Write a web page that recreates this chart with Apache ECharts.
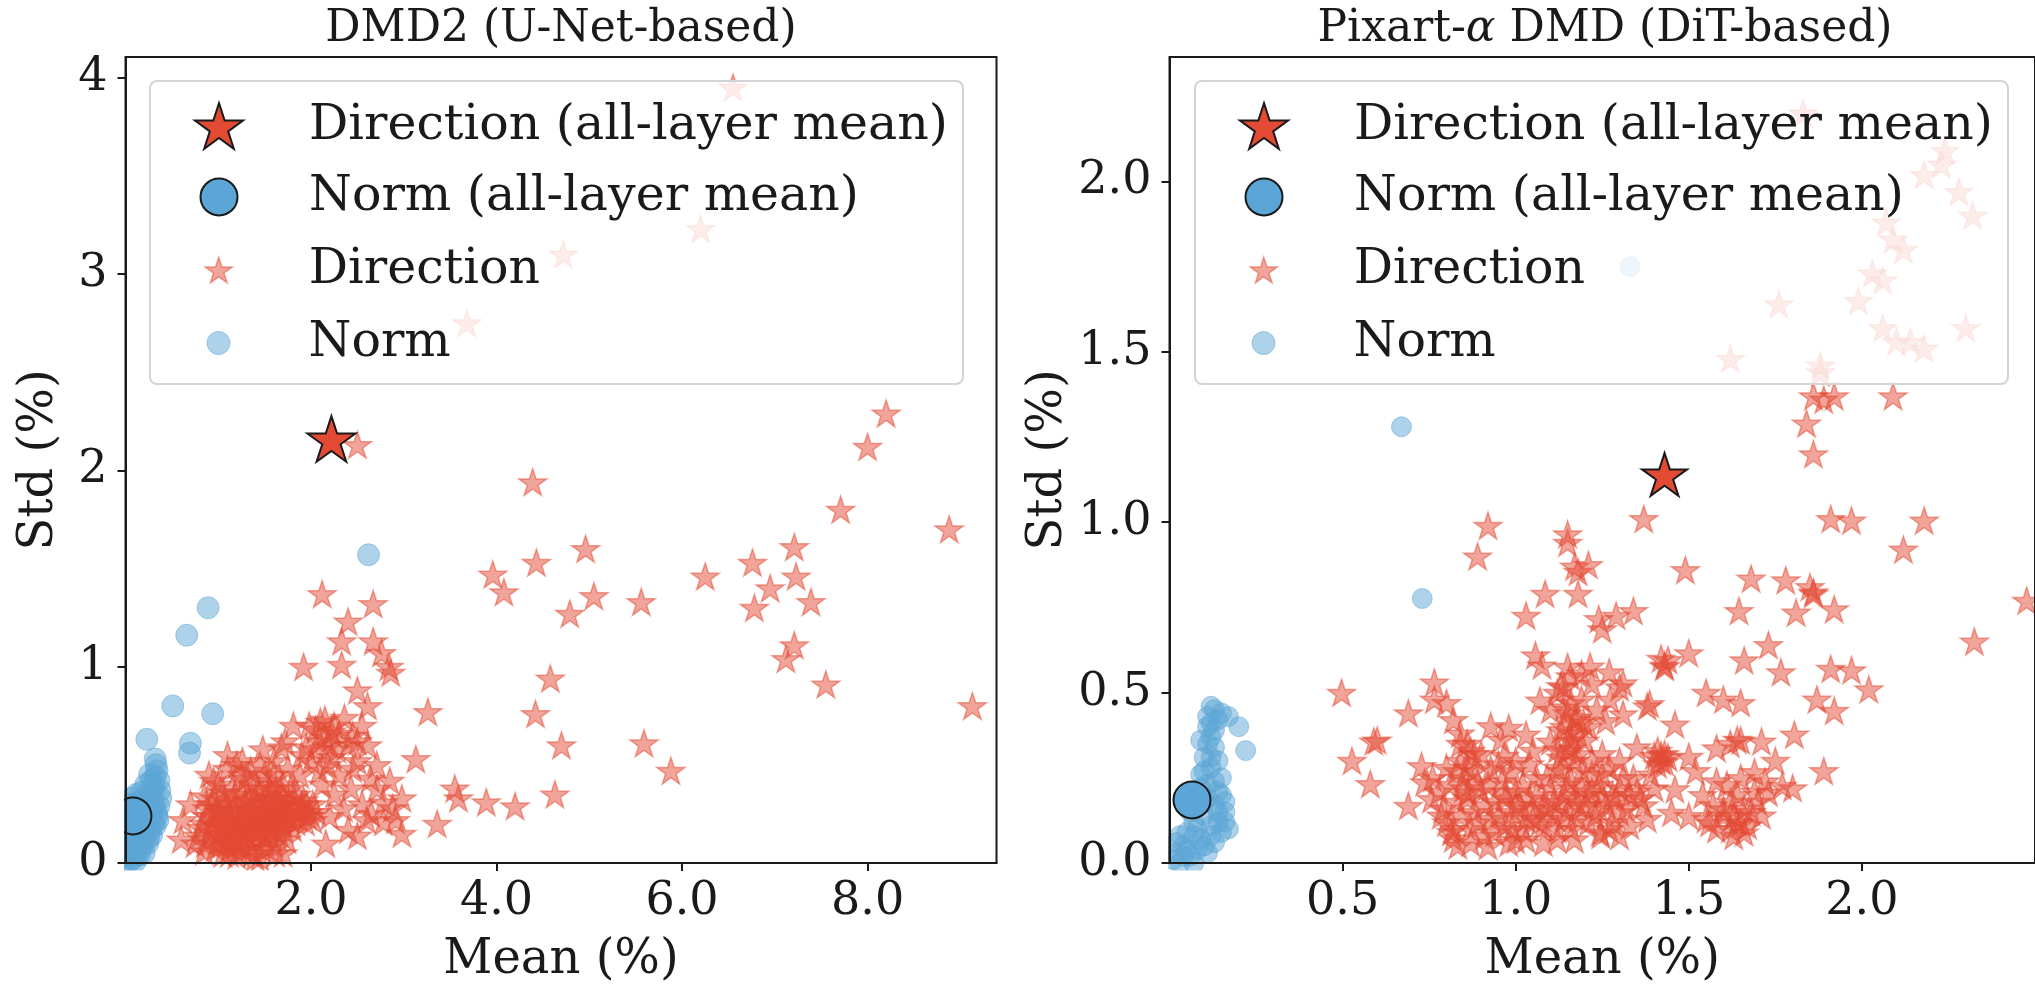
<!DOCTYPE html>
<html><head><meta charset="utf-8">
<script src="https://cdn.jsdelivr.net/npm/echarts@6/dist/echarts.min.js"></script>
<style>html,body{margin:0;padding:0;background:#fff}#c{width:2035px;height:990px}</style>
</head><body><div id="c"></div>
<script>
// ---------------- DATA ----------------
const titleL = 'DMD2 (U-Net-based)';
const titleR = 'Pixart-{a|α} DMD (DiT-based)';
const legendNames = ['Direction (all-layer mean)', 'Norm (all-layer mean)', 'Direction', 'Norm'];
const xName = 'Mean (%)';
const yName = 'Std (%)';
const xTicksL = [2, 4, 6, 8];
const yTicksL = [0, 1, 2, 3, 4];
const xTicksR = [0.5, 1.0, 1.5, 2.0];
const yTicksR = [0, 0.5, 1.0, 1.5, 2.0];

const dirMeanL = [[2.22, 2.16]];
const normMeanL = [[0.08, 0.24]];
const dirL = [
 [6.55,3.95],[6.20,3.23],[4.72,3.10],[3.68,2.75],[2.50,2.13],[8.20,2.29],[8.00,2.12],[4.39,1.94],[7.71,1.80],[8.88,1.70],
 [4.96,1.60],[4.43,1.53],[7.21,1.61],[6.76,1.53],[3.96,1.47],[6.25,1.46],[7.23,1.46],[4.08,1.38],[5.05,1.36],[6.95,1.40],
 [5.56,1.33],[4.79,1.27],[6.78,1.30],[7.39,1.33],[7.21,1.11],[7.12,1.04],[7.55,0.91],[9.13,0.80],[4.58,0.94],[4.42,0.76],
 [4.70,0.60],[5.59,0.61],[5.88,0.47],[4.63,0.35],[3.55,0.38],[3.59,0.33],[3.89,0.31],[4.20,0.29],[3.36,0.20],[3.13,0.53],[3.26,0.77],
 [2.12,1.37],[2.67,1.32],[2.40,1.23],[2.33,1.13],[2.67,1.13],[2.76,1.07],[2.84,1.00],[2.86,0.97],[1.92,1.00],[2.33,1.01],
 [2.50,0.88],[2.61,0.80],[1.81,0.70],[2.15,0.73],[2.22,0.67],[2.09,0.62],[2.50,0.62],[2.36,0.74],[2.61,0.60],[2.71,0.50],
 [2.50,0.52],[2.64,0.43],[2.43,0.38],[2.22,0.54],[2.09,0.47],[1.95,0.59],[1.68,0.59],[1.88,0.45],[2.50,0.14],[2.16,0.10],
 [2.40,0.17],[2.78,0.21],[2.98,0.33],[2.91,0.22],[2.98,0.15],[2.78,0.31],[2.71,0.38],[2.05,0.68],[2.20,0.60],[2.30,0.45],
 [2.55,0.30],[2.35,0.28],[2.60,0.22],[2.25,0.35],[2.00,0.52],[2.12,0.40],[2.45,0.48],[2.85,0.42],[2.30,0.66],[2.18,0.50],
 [1.98,0.70],[2.40,0.60],[2.65,0.25],[2.88,0.28],[2.20,0.24],
 [1.26,0.52],[1.10,0.48],[1.45,0.50],[0.85,0.34],[0.70,0.30],[0.62,0.22],[0.60,0.12],[0.75,0.10],[0.95,0.42],[1.60,0.45],
 [1.70,0.40],[1.85,0.35],[1.95,0.30],[2.02,0.22],[1.05,0.05],[1.40,0.03],[1.70,0.05],[0.85,0.06],[1.25,0.45],[1.55,0.38],[1.00,0.40],
 [0.82,0.18],[0.88,0.24],[0.90,0.12],[0.95,0.20],[0.98,0.28],[1.00,0.15],[1.02,0.09],[1.05,0.22],[1.07,0.32],[1.10,0.17],
 [1.12,0.26],[1.13,0.08],[1.15,0.20],[1.17,0.13],[1.18,0.30],[1.20,0.24],[1.22,0.06],[1.23,0.18],[1.25,0.36],[1.26,0.11],
 [1.28,0.27],[1.30,0.21],[1.31,0.15],[1.33,0.32],[1.34,0.08],[1.36,0.25],[1.38,0.19],[1.39,0.12],[1.41,0.29],[1.42,0.22],
 [1.44,0.16],[1.45,0.35],[1.47,0.07],[1.48,0.26],[1.50,0.20],[1.51,0.13],[1.53,0.31],[1.55,0.23],[1.56,0.17],[1.58,0.28],
 [1.60,0.10],[1.61,0.21],[1.63,0.33],[1.65,0.25],[1.66,0.15],[1.68,0.29],[1.70,0.20],[1.72,0.26],[1.74,0.12],[1.76,0.31],
 [1.78,0.22],[1.80,0.18],[1.83,0.27],[1.86,0.23],[1.90,0.30],[1.94,0.21],[1.98,0.26],[1.15,0.38],[1.35,0.40],[1.55,0.42],
 [1.05,0.12],[1.20,0.04],[1.45,0.03],[1.62,0.05],[0.92,0.30],[1.28,0.16],[1.40,0.24],[1.52,0.27],[1.33,0.19],[1.46,0.18],
 [1.24,0.22],[1.57,0.14],
 [0.78,0.14],[0.84,0.20],[0.86,0.10],[0.92,0.16],[0.94,0.24],[0.97,0.08],[0.99,0.19],[1.01,0.26],[1.03,0.14],[1.06,0.18],
 [1.08,0.28],[1.09,0.10],[1.11,0.21],[1.14,0.16],[1.16,0.27],[1.19,0.09],[1.21,0.19],[1.24,0.14],[1.27,0.23],[1.29,0.31],
 [1.32,0.12],[1.35,0.28],[1.37,0.16],[1.40,0.33],[1.43,0.20],[1.46,0.27],[1.49,0.14],[1.52,0.22],[1.54,0.34],[1.57,0.19],
 [1.59,0.25],[1.62,0.16],[1.64,0.29],[1.67,0.22],[1.69,0.35],[1.71,0.17],[1.73,0.30],[1.75,0.24],[1.79,0.28],[1.81,0.33],
 [1.84,0.21],[1.88,0.26],[1.92,0.32],[1.96,0.24],[2.02,0.30],[2.06,0.26],[1.27,0.07],[1.37,0.05],[1.52,0.08],[1.12,0.05],
 [0.96,0.33],[1.18,0.35],[1.42,0.38],[1.62,0.38],[1.78,0.38],[1.30,0.43],[1.50,0.45],[1.05,0.36],[0.88,0.28],[1.60,0.30],
 [1.10,0.55],[1.20,0.50],[1.35,0.47],[1.60,0.52],[1.75,0.48],[1.90,0.55],[1.72,0.62],[1.48,0.58],[0.90,0.45],[2.05,0.58],
 [2.10,0.72],[2.25,0.70],[2.15,0.64],[2.28,0.58],[2.45,0.65],[2.55,0.70]
];
const normL = [
 [2.62,1.57],[0.89,1.30],[0.66,1.16],[0.51,0.80],[0.94,0.76],[0.23,0.63],[0.70,0.61],[0.69,0.56],[0.32,0.53],[0.34,0.47],
 [0.36,0.42],[0.37,0.37],[0.38,0.33],[0.36,0.29],[0.33,0.26],[0.35,0.22],[0.30,0.20],[0.27,0.17],[0.25,0.13],[0.20,0.10],
 [0.16,0.07],[0.12,0.04],[0.08,0.02],[0.04,0.01],[0.02,0.05],[0.05,0.09],[0.03,0.14],[0.10,0.12],[0.14,0.16],[0.18,0.20],
 [0.22,0.24],[0.26,0.28],[0.29,0.33],[0.31,0.38],[0.12,0.22],[0.06,0.18],[0.16,0.28],[0.20,0.31],[0.24,0.35],[0.28,0.42],
 [0.10,0.30],[0.05,0.26],[0.02,0.20],[0.08,0.07],[0.13,0.10],[0.01,0.01],[0.06,0.04],[0.18,0.14],[0.22,0.19],[0.27,0.24],
 [0.15,0.04],[0.10,0.17],
 [0.00,0.03],[0.02,0.08],[0.04,0.12],[0.06,0.10],[0.08,0.14],[0.10,0.08],[0.12,0.15],[0.14,0.20],[0.16,0.23],[0.18,0.26],
 [0.20,0.27],[0.22,0.30],[0.25,0.32],[0.27,0.36],[0.30,0.40],[0.32,0.44],[0.33,0.50],[0.03,0.30],[0.07,0.33],[0.12,0.35],
 [0.17,0.36],[0.22,0.40],[0.26,0.45],[0.04,0.22],[0.09,0.27],[0.14,0.31],[0.19,0.17],[0.24,0.21],[0.29,0.28],[0.31,0.30],
 [0.20,0.05],[0.24,0.10],[0.28,0.14],[0.32,0.19],[0.34,0.24],[0.11,0.01],[0.17,0.11],[0.21,0.15],[0.01,0.12],[0.03,0.17]
];

const dirMeanR = [[1.43, 1.14]];
const normMeanR = [[0.065, 0.185]];
const dirR = [
 [1.83,2.20],[2.24,2.09],[2.18,2.02],[2.28,1.97],[2.32,1.90],[2.07,1.88],[2.09,1.83],[2.03,1.73],[2.06,1.71],[1.99,1.65],
 [1.76,1.64],[2.06,1.57],[2.10,1.53],[2.30,1.57],[1.62,1.48],[1.88,1.46],[1.86,1.37],[1.89,1.36],[1.84,1.29],[1.86,1.20],
 [2.09,1.37],[1.92,1.37],[2.23,2.05],[2.12,1.80],[2.14,1.53],[2.18,1.51],[1.88,1.44],
 [1.37,1.01],[0.92,0.99],[0.89,0.90],[1.15,0.965],[1.15,0.94],[1.18,0.855],[1.21,0.875],[1.085,0.79],[1.18,0.79],
 [1.03,0.726],[1.24,0.716],[1.29,0.726],[1.34,0.74],[1.25,0.686],[1.49,0.86],[1.68,0.835],[1.78,0.83],[1.86,0.795],[1.91,1.01],
 [1.97,1.005],[2.18,1.005],[2.12,0.92],[2.325,0.65],[2.476,0.77],[1.92,0.745],[1.81,0.735],[1.645,0.74],[1.73,0.64],[1.66,0.595],
 [1.50,0.616],[1.44,0.596],[1.43,0.576],[1.766,0.56],[1.91,0.57],[1.97,0.566],[2.02,0.51],[1.87,0.48],[1.92,0.447],[1.89,0.27],
 [1.805,0.377],[1.55,0.50],[1.60,0.48],[1.65,0.47],[1.387,0.467],[1.46,0.407],[1.42,0.317],[1.43,0.297],[1.71,0.357],[1.64,0.362],
 [1.58,0.337],[1.50,0.312],[1.41,0.33],[1.44,0.31],[1.62,0.35],[1.65,0.36],[1.86,0.79],[1.85,0.81],[1.17,0.87],[1.43,0.58],[1.42,0.60],
 [1.69,0.267],[1.77,0.227],[1.73,0.207],[1.63,0.138],[1.60,0.158],[1.65,0.118],[1.50,0.138],[1.45,0.148],[1.56,0.118],[1.46,0.217],
 [1.62,0.10],[1.66,0.09],[1.68,0.15],[1.70,0.18],[1.64,0.20],[1.58,0.24],[1.54,0.20],[1.75,0.30],[1.80,0.22],[1.52,0.27],
 [1.246,0.083],[1.00,0.068],[0.82,0.073],[0.69,0.168],[0.58,0.232],[0.527,0.30],[0.59,0.357],[0.497,0.50],[0.69,0.44],[0.765,0.53],
 [0.765,0.48],[1.057,0.61],[1.076,0.58],[1.15,0.576],[1.19,0.556],[1.22,0.526],[1.27,0.56],[1.30,0.516],[1.07,0.477],[1.14,0.516],
 [1.14,0.457],[1.18,0.427],[1.26,0.417],[1.31,0.437],[0.98,0.397],[1.03,0.377],[1.10,0.357],[1.16,0.337],[0.60,0.36],[0.728,0.285],
 [0.737,0.237],[0.757,0.188],[0.785,0.14],[0.814,0.091],[0.833,0.052],[0.80,0.47],[0.82,0.42],[0.84,0.38],[0.86,0.35],[0.87,0.33],
 [0.928,0.402],[0.957,0.363],[0.967,0.315],[0.928,0.276],[0.89,0.237],[0.862,0.208],[0.97,0.19],[1.01,0.17],[1.05,0.16],[1.09,0.16],
 [1.13,0.18],[1.17,0.19],[1.21,0.20],[1.25,0.20],[1.29,0.19],[1.33,0.20],[1.12,0.334],[1.158,0.383],[1.196,0.412],[1.234,0.451],
 [1.273,0.48],[1.31,0.528],[1.158,0.548],[1.215,0.577],[1.38,0.46],[1.40,0.315],[1.244,0.09],
 [0.80,0.12],[0.83,0.18],[0.85,0.25],[0.87,0.10],[0.88,0.15],[0.90,0.21],[0.91,0.08],[0.93,0.13],[0.94,0.18],[0.96,0.24],
 [0.97,0.11],[0.99,0.15],[1.00,0.21],[1.02,0.10],[1.03,0.13],[1.04,0.19],[1.06,0.25],[1.07,0.12],[1.08,0.17],[1.10,0.22],
 [1.11,0.14],[1.12,0.10],[1.13,0.27],[1.14,0.20],[1.15,0.15],[1.16,0.24],[1.17,0.30],[1.18,0.13],[1.19,0.22],[1.20,0.17],
 [1.21,0.40],[1.22,0.26],[1.23,0.14],[1.24,0.23],[1.26,0.17],[1.27,0.28],[1.28,0.12],[1.30,0.22],[1.32,0.16],[1.34,0.25],
 [1.36,0.19],[1.38,0.13],[1.40,0.22],[1.10,0.45],[1.12,0.50],[1.15,0.44],[1.16,0.36],[1.18,0.32],[1.13,0.39],[0.86,0.28],
 [0.84,0.30],[0.90,0.32],[0.95,0.29],[1.00,0.30],[1.05,0.33],[1.25,0.32],[1.30,0.30],[1.35,0.34],[1.20,0.36],[0.92,0.05],
 [0.98,0.06],[1.08,0.06],[1.17,0.07],[1.30,0.08],[0.78,0.21],
 [0.79,0.16],[0.81,0.23],[0.82,0.10],[0.84,0.14],[0.86,0.19],[0.87,0.06],[0.89,0.12],[0.91,0.17],[0.92,0.23],[0.94,0.09],
 [0.95,0.14],[0.97,0.21],[0.99,0.10],[1.00,0.17],[1.02,0.23],[1.03,0.07],[1.05,0.13],[1.06,0.20],[1.08,0.11],[1.09,0.25],
 [1.11,0.18],[1.12,0.07],[1.14,0.13],[1.15,0.23],[1.16,0.10],[1.18,0.17],[1.19,0.27],[1.21,0.12],[1.22,0.21],[1.24,0.16],
 [1.25,0.26],[1.27,0.10],[1.28,0.20],[1.30,0.15],[1.31,0.25],[1.33,0.11],[1.35,0.21],[1.37,0.17],[1.39,0.26],[0.85,0.22],
 [0.88,0.27],[0.83,0.27],[0.99,0.27],[1.04,0.29],[1.13,0.31],[1.22,0.30],[1.58,0.10],[1.60,0.14],[1.62,0.18],[1.64,0.12],
 [1.66,0.16],[1.67,0.11],[1.69,0.21],[1.71,0.14],[1.63,0.08],[1.57,0.17],[1.61,0.23],[1.55,0.13],[1.65,0.25],[1.72,0.24],
 [1.14,0.40],[1.16,0.47],[1.17,0.42],[1.13,0.52],[1.15,0.33],[1.18,0.38],[1.12,0.28],[1.42,0.30],[1.43,0.32],[1.41,0.29],
 [1.19,0.48],[0.88,0.32],[0.84,0.35],[0.80,0.28],[0.76,0.25]
];
const normR = [
 [0.73,0.776],[0.67,1.28],[1.33,1.75],
 [0.12,0.46],[0.13,0.45],[0.11,0.43],[0.17,0.43],[0.20,0.40],[0.22,0.33],[0.11,0.40],[0.12,0.37],[0.13,0.34],[0.10,0.31],
 [0.12,0.28],[0.09,0.26],[0.11,0.23],[0.14,0.21],[0.08,0.20],[0.13,0.17],[0.16,0.15],[0.10,0.14],[0.07,0.12],[0.12,0.11],
 [0.15,0.09],[0.05,0.09],[0.09,0.07],[0.13,0.06],[0.04,0.05],[0.08,0.04],[0.11,0.03],[0.02,0.03],[0.06,0.02],[0.01,0.01],
 [0.03,0.00],[0.14,0.12],[0.10,0.18],[0.06,0.15],[0.15,0.25],[0.14,0.30],[0.09,0.36],[0.16,0.18],[0.03,0.08],[0.17,0.10],
 [0.02,0.06],[0.05,0.04],[0.07,0.08],[0.10,0.05],[0.12,0.08],[0.14,0.15],[0.11,0.19],[0.09,0.22],[0.13,0.24],[0.12,0.31],
 [0.11,0.35],[0.13,0.39],[0.14,0.42],[0.08,0.10],[0.04,0.02],[0.07,0.00],[0.15,0.20],[0.16,0.12],[0.10,0.27],[0.12,0.41],[0.15,0.44]
];

// ---------------- STYLE ----------------
const STAR = 'path://M0,-100 L22.45,-30.9 L95.11,-30.9 L36.33,11.8 L58.78,80.9 L0,38.2 L-58.78,80.9 L-36.33,11.8 L-95.11,-30.9 L-22.45,-30.9 Z';
const RED = '#E34A33', BLUE = '#5BA6D6', INK = '#1a1a1a';
const FONT = '"DejaVu Serif", serif';
const TICK_FS = 46, LEG_FS = 49, NAME_FS = 48, TITLE_FS = 44;

const grids = [
  {left: 125.5, top: 57, width: 871, height: 812},
  {left: 1169.5, top: 57, width: 872, height: 812}
];

function xAxisCfg(gi, max, interval, ticks) {
  return {
    type: 'value', gridIndex: gi, min: 0, max: max, interval: interval, z: 10,
    name: xName, nameLocation: 'middle', nameGap: 74,
    nameTextStyle: {fontFamily: FONT, fontSize: NAME_FS, color: INK},
    axisLine: {show: true, onZero: false, lineStyle: {color: INK, width: 2}},
    axisTick: {show: true, length: 8, lineStyle: {color: INK, width: 2}, customValues: ticks},
    axisLabel: {show: true, margin: 16, fontFamily: FONT, fontSize: TICK_FS, color: INK,
      customValues: ticks, formatter: v => Number(v).toFixed(1)},
    splitLine: {show: false}
  };
}
function yAxisCfg(gi, max, interval, ticks, fmt, gap) {
  return {
    type: 'value', gridIndex: gi, min: 0, max: max, interval: interval, z: 10,
    name: yName, nameLocation: 'middle', nameGap: gap,
    nameTextStyle: {fontFamily: FONT, fontSize: NAME_FS, color: INK},
    axisLine: {show: true, onZero: false, lineStyle: {color: INK, width: 2}},
    axisTick: {show: true, length: 8, lineStyle: {color: INK, width: 2}, customValues: ticks},
    axisLabel: {show: true, margin: 18, fontFamily: FONT, fontSize: TICK_FS, color: INK,
      customValues: ticks, formatter: fmt},
    splitLine: {show: false}
  };
}

function seriesFor(gi, dMean, nMean, d, n, smallStar, smallDot, bigStar) {
  const base = {type: 'scatter', xAxisIndex: gi, yAxisIndex: gi, silent: true, animation: false};
  return [
    Object.assign({}, base, {name: legendNames[2], data: d, symbol: STAR, symbolKeepAspect: true, symbolSize: smallStar,
      itemStyle: {color: RED, borderColor: RED, borderWidth: 1.5, opacity: 0.5}, z: 2}),
    Object.assign({}, base, {name: legendNames[3], data: n, symbol: 'circle', symbolSize: smallDot,
      itemStyle: {color: BLUE, borderColor: BLUE, borderWidth: 1, opacity: 0.5}, z: 2}),
    Object.assign({}, base, {name: legendNames[0], data: dMean, symbol: STAR, symbolKeepAspect: true, symbolSize: bigStar,
      itemStyle: {color: RED, borderColor: INK, borderWidth: 2, opacity: 1}, z: 3}),
    Object.assign({}, base, {name: legendNames[1], data: nMean, symbol: 'circle', symbolSize: 37,
      itemStyle: {color: BLUE, borderColor: INK, borderWidth: 2, opacity: 1}, z: 3})
  ];
}

// legend entries (one component each so icon sizes can differ)
const legendIcons = [
  {icon: STAR, w: 48, h: 46, style: {color: RED, borderColor: INK, borderWidth: 2, opacity: 1}},
  {icon: 'circle', w: 37, h: 37, style: {color: BLUE, borderColor: INK, borderWidth: 2, opacity: 1}},
  {icon: STAR, w: 27, h: 26, style: {color: RED, borderColor: RED, borderWidth: 1.5, opacity: 0.5}},
  {icon: 'circle', w: 23, h: 23, style: {color: BLUE, borderColor: BLUE, borderWidth: 1, opacity: 0.5}}
];
const rowY = [126, 197, 270, 343];
const iconCX = [218, 1263];
const legends = [];
iconCX.forEach(cx => {
  legendIcons.forEach((li, i) => {
    legends.push({
      left: cx - li.w / 2, top: rowY[i] - 25, padding: 0, itemGap: 0, z: 8,
      itemWidth: li.w, itemHeight: li.h, selectedMode: false, symbolKeepAspect: true,
      data: [{name: legendNames[i], icon: li.icon, itemStyle: li.style}],
      textStyle: {fontFamily: FONT, fontSize: LEG_FS, color: INK, lineHeight: 50,
        padding: [0, 0, 0, 90 - li.w / 2 - 5]}
    });
  });
});

const graphics = [
  // masks outside plotting areas (emulate clipping of markers)
  {type: 'rect', shape: {x: 0, y: 0, width: 124, height: 990}, style: {fill: '#fff'}, z: 5, silent: true},
  {type: 'rect', shape: {x: 0, y: 870.5, width: 2035, height: 130}, style: {fill: '#fff'}, z: 5, silent: true},
  {type: 'rect', shape: {x: 997.5, y: 0, width: 170.5, height: 990}, style: {fill: '#fff'}, z: 5, silent: true},
  // legend boxes
  {type: 'rect', shape: {x: 150, y: 81, width: 813, height: 303, r: 7},
    style: {fill: 'rgba(255,255,255,0.8)', stroke: '#d4d4d4', lineWidth: 2}, z: 6, silent: true},
  {type: 'rect', shape: {x: 1195, y: 81, width: 813, height: 303, r: 7},
    style: {fill: 'rgba(255,255,255,0.8)', stroke: '#d4d4d4', lineWidth: 2}, z: 6, silent: true},
  // titles
  {type: 'text', x: 561, y: 30, z: 20, silent: true,
    style: {text: titleL, fontFamily: FONT, fontSize: TITLE_FS, fill: INK, align: 'center', verticalAlign: 'middle'}},
  {type: 'text', x: 1605, y: 30, z: 20, silent: true,
    style: {text: titleR, fontFamily: FONT, fontSize: TITLE_FS, fill: INK, align: 'center', verticalAlign: 'middle',
      rich: {a: {fontFamily: FONT, fontSize: TITLE_FS, fontStyle: 'italic', fill: INK}}}}
];

const chart = echarts.init(document.getElementById('c'), null, {renderer: 'canvas'});
chart.setOption({
  animation: false,
  backgroundColor: '#fff',
  grid: grids.map(g => Object.assign({show: true, borderColor: INK, borderWidth: 2, z: 10, backgroundColor: 'transparent'}, g)),
  xAxis: [xAxisCfg(0, 9.39, 2, xTicksL), xAxisCfg(1, 2.5, 0.5, xTicksR)],
  yAxis: [yAxisCfg(0, 4.105, 1, yTicksL, v => String(Math.round(v)), 62),
          yAxisCfg(1, 2.365, 0.5, yTicksR, v => Number(v).toFixed(1), 97)],
  legend: legends,
  series: [].concat(
    seriesFor(0, dirMeanL, normMeanL, dirL, normL, 28, 22, 48),
    seriesFor(1, dirMeanR, normMeanR, dirR, normR, 28, 20, 45)
  ),
  graphic: graphics
});
</script></body></html>
